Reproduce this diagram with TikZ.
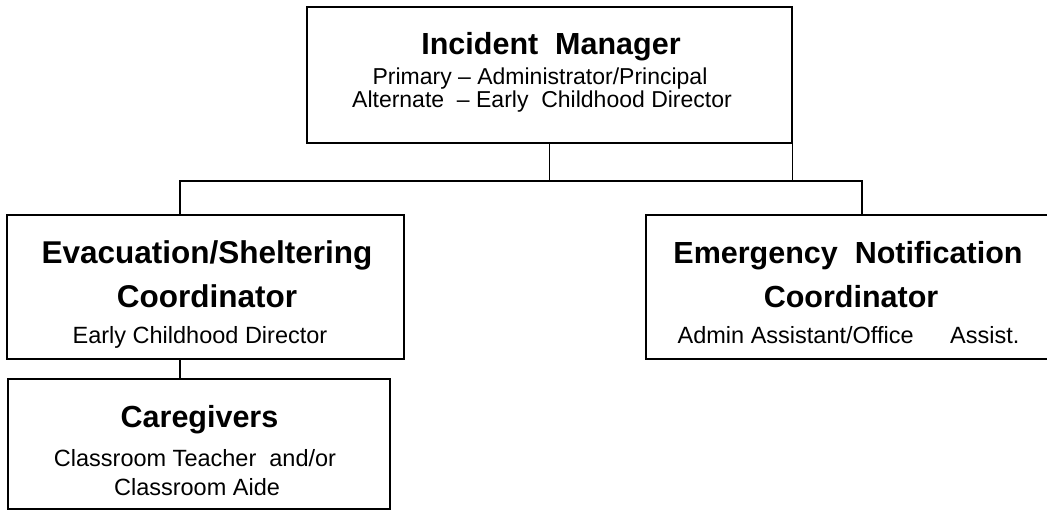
\documentclass[tikz,border=0pt]{standalone}
\usepackage{fontspec}
\setmainfont{Liberation Sans}
\usetikzlibrary{positioning}

\begin{document}
\begin{tikzpicture}[x=1pt,y=-1pt,
  box/.style={draw, line width=1.3pt, inner sep=0pt},
  link/.style={line width=1.3pt},
  title/.style={anchor=base, inner sep=0pt, font=\fontsize{30.5}{31}\selectfont\bfseries},
  sub/.style={anchor=base, inner sep=0pt, font=\fontsize{23.5}{24}\selectfont}]
  \useasboundingbox (0,0) rectangle (1047,510);
  \clip (0,0) rectangle (1047,510);

  % boxes
  \node[box, minimum width=485, minimum height=136] (im) at (549.5,75) {};
  \node[box, minimum width=397, minimum height=144] (evac) at (205.5,287) {};
  \node[box, minimum width=404, minimum height=144] (notif) at (848,287) {};
  \node[box, minimum width=382, minimum height=130] (care) at (199,444) {};

  % texts
  \node[title] (imT) at (551,55) {Incident~ Manager};
  \node[sub, font=\fontsize{23}{23}\selectfont] (imA) at (540,85) {Primary -- Administrator/Principal};
  \node[sub, font=\fontsize{23}{23}\selectfont] (imB) at (542,108) {Alternate~ -- Early~ Childhood Director};

  \node[title, font=\fontsize{31.5}{32}\selectfont\bfseries] (evacT) at (207,264) {Evacuation/Sheltering};
  \node[title, font=\fontsize{31.5}{32}\selectfont\bfseries] (evacU) at (207,308) {Coordinator};
  \node[sub] (evacA) at (200,344) {Early Childhood Director};

  \node[title] (notifT) at (848,264) {Emergency~ Notification};
  \node[title] (notifU) at (851,308) {Coordinator};
  \node[sub] (notifA) at (848.5,344) {Admin Assistant/Office\hspace{30pt} Assist.};

  \node[title] (careT) at (199.5,428) {Caregivers};
  \node[sub] (careA) at (195,466) {Classroom Teacher~ and/or};
  \node[sub] (careB) at (197,495) {Classroom Aide};

  % connectors
  \coordinate (busL) at (180,181);
  \coordinate (busR) at (862,181);
  \draw[link] (im.south) -- (im.south |- busL);
  \draw[link] (im.south east) -- (im.south east |- busL);
  \draw[link] (evac.north -| busL) -- (busL) -- (busR) -- (busR |- notif.north);
  \draw[link] (evac.south -| busL) -- (care.north -| busL);
\end{tikzpicture}
\end{document}
